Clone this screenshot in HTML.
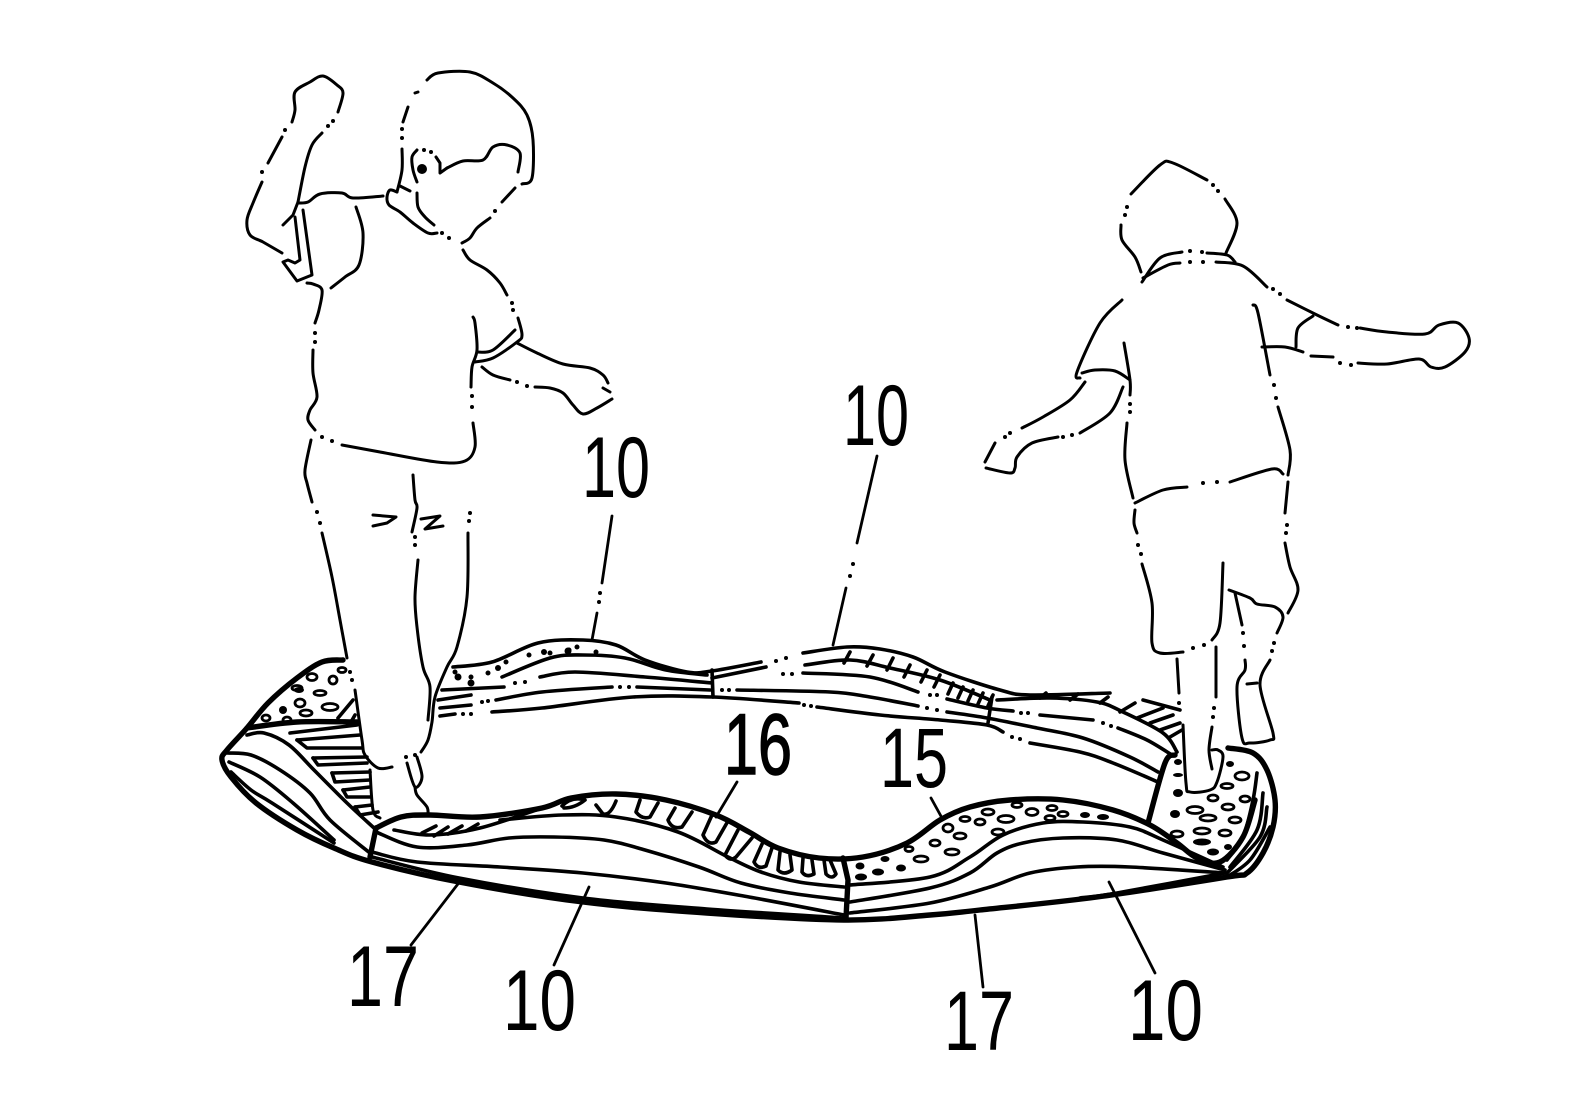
<!DOCTYPE html>
<html><head><meta charset="utf-8"><title>Figure</title>
<style>
html,body{margin:0;padding:0;background:#fff}
svg{display:block}
polyline,path{fill:none;stroke:#000;stroke-width:2.6;stroke-linecap:round;stroke-linejoin:round}
.t polyline,.t path{stroke-width:5.4}
.m polyline,.m path{stroke-width:3.6}
.f polyline,.f path{stroke-width:3}
.l polyline,.l path{stroke-width:2.8}
.d{stroke-width:4}
.h ellipse{fill:none;stroke:#000;stroke-width:2.8}
.b ellipse{fill:#000;stroke:none}
text{font-family:"Liberation Sans",sans-serif;fill:#000;font-weight:400}
</style></head><body>
<svg id="fig" width="1576" height="1100" viewBox="0 0 1576 1100" xmlns="http://www.w3.org/2000/svg">
<rect width="1576" height="1100" fill="#fff"/>

<!-- left boy -->
<g class="f">
<polyline points="338,112 343,93 337,85 323,76 310,82 295,92 295,110 292,122"/>
<polyline points="282,137 268,163"/>
<polyline points="262,182 253,203 247,220 250,235 263,242 282,253"/>
<polyline points="322,133 312,145 305,167 298,202"/>
<polyline class="k" points="283,225 293,215 298,202"/>
<polyline class="k" points="295,217 300,260 295,263 288,260 283,262 297,281 312,275 303,210"/>
<polyline points="298,203 308,202 320,194 342,193 353,198 383,196"/>
<polyline points="397,192 390,190 387,197 389,205 400,212 413,223 428,233 437,233"/>
<polyline points="356,207 363,233 359,265 345,277 331,288"/>
<polyline points="307,283 313,284 322,290 319,310 315,323"/>
<polyline points="313,350 313,373 317,397 310,410 308,420 315,430"/>
<polyline points="342,445 380,452 437,462 465,461 475,447 473,423"/>
<polyline points="471,387 472,367 477,350 475,323 473,317"/>
<polyline points="475,362 493,358 517,342 522,335 518,318"/>
<polyline points="477,352 493,350 515,330"/>
<polyline points="463,250 470,260 487,270 500,283 507,295"/>
<polyline points="517,343 537,353 563,364 590,368 603,375 608,383"/>
<polyline points="603,388 610,392"/>
<polyline points="612,399 597,408 583,414 573,405 563,393 550,388 535,387"/>
<polyline points="510,380 493,375 482,367"/>
<polyline points="427,80 438,73 470,72 493,83 513,98 527,115 533,140 532,178 522,184"/>
<polyline points="515,188 502,202"/>
<polyline points="490,218 477,228 470,238 462,243"/>
<polyline points="418,92 415,93"/>
<polyline points="408,107 403,122"/>
<polyline points="402,149 402,170 397,192"/>
<polyline points="447,168 463,161 483,160 493,147 507,145 520,153 518,172"/>
<polyline class="k" points="447,168 440,173 440,163 436,157"/>
<polyline points="417,150 412,157 413,170 417,182"/>
<polyline points="417,193 418,207 425,217 434,225"/>
<polyline points="400,186 410,191"/>
<polyline points="311,440 305,470 307,483 312,502"/>
<polyline points="322,533 332,577 340,620 347,658"/>
<polyline points="413,475 415,500 417,508 412,532"/>
<polyline points="418,560 415,597 417,627 423,667 430,687 428,720"/>
<polyline points="468,533 467,597 457,647 447,667 435,697 432,722 428,740 421,752"/>
<polyline class="k" points="373,515 396,517 387,523 373,526"/>
<polyline class="k" points="421,519 440,516 425,529 443,526"/>
<polyline points="355,690 362,740 365,755 378,768 392,767"/>
<polyline points="407,763 415,787 422,777 417,757"/>
<polyline points="415,787 417,795 427,807 428,815"/>
<polyline points="370,770 373,810 380,818"/>
</g>
<path class="d" d="M285,130h.01M262,172h.01M328,126h.01M333,121h.01M442,233h.01M449,238h.01M315,333h.01M315,342h.01M322,437h.01M332,441h.01M472,407h.01M472,396h.01M513,310h.01M512,303h.01M527,386h.01M517,382h.01M495,211h.01M402,129h.01M402,138h.01M424,150h.01M431,152h.01M317,512h.01M320,523h.01M415,537h.01M415,545h.01M470,513h.01M469,521h.01M406,757h.01M415,755h.01"/>
<circle cx="422" cy="169" r="5"/>

<!-- right boy -->
<g class="f">
<polyline points="1131,194 1160,165 1173,163 1207,180"/>
<polyline points="1225,199 1237,223 1226,253"/>
<polyline points="1121,225 1122,240 1135,257 1141,272"/>
<polyline points="1142,282 1160,258 1182,252"/>
<polyline points="1207,253 1227,255 1235,262"/>
<polyline points="1143,278 1168,265 1180,263"/>
<polyline points="1216,262 1243,266 1267,287"/>
<polyline points="1287,300 1317,315 1338,325"/>
<polyline points="1360,328 1387,332 1425,334 1439,325 1458,323 1469,338 1465,352 1445,367 1431,367 1419,359 1387,364 1358,363"/>
<polyline points="1333,357 1311,356"/>
<polyline points="1303,352 1285,347 1262,347"/>
<polyline points="1296,347 1298,328 1313,316"/>
<polyline points="1253,305 1258,313 1270,375"/>
<polyline points="1278,407 1290,450 1288,475"/>
<polyline points="1122,300 1100,323 1077,372 1080,378"/>
<polyline points="1082,373 1095,370 1115,371 1130,380"/>
<polyline points="1124,343 1130,380 1130,395"/>
<polyline points="1127,423 1125,460 1133,498"/>
<polyline points="1085,382 1070,400 1043,417 1022,428"/>
<polyline points="995,443 985,462"/>
<polyline points="986,468 1010,473 1015,468 1017,457 1032,443 1058,437"/>
<polyline points="1080,433 1110,413 1123,387"/>
<polyline points="1135,503 1163,490 1187,487"/>
<polyline points="1230,482 1272,469 1283,474"/>
<polyline points="1288,482 1285,513"/>
<polyline points="1135,510 1134,523 1137,533"/>
<polyline points="1142,564 1152,603 1152,643 1160,653 1183,652"/>
<polyline points="1212,640 1220,623 1223,563"/>
<polyline points="1285,543 1290,567 1298,590 1288,613"/>
<polyline points="1229,590 1250,598 1257,604 1275,607 1283,617 1277,633"/>
<polyline points="1270,660 1260,685 1273,733 1270,740 1250,743 1242,738 1237,687 1245,670 1245,660"/>
<polyline points="1247,684 1257,683"/>
<polyline points="1235,593 1242,625"/>
<polyline points="1177,659 1179,693"/>
<polyline points="1183,725 1186,783 1190,792 1210,790 1217,782 1223,757 1218,750 1212,750"/>
<polyline points="1216,647 1216,697"/>
<polyline points="1212,727 1209,750 1212,769"/>
</g>
<path class="d" d="M1213,185h.01M1218,191h.01M1127,207h.01M1125,215h.01M1190,251h.01M1202,252h.01M1190,262h.01M1203,262h.01M1273,289h.01M1280,294h.01M1348,327h.01M1357,328h.01M1351,365h.01M1340,363h.01M1274,385h.01M1276,398h.01M1130,404h.01M1130,412h.01M1010,433h.01M1005,437h.01M1063,437h.01M1072,435h.01M1203,483h.01M1217,482h.01M1287,525h.01M1286,533h.01M1138,545h.01M1141,554h.01M1193,648h.01M1204,645h.01M1274,643h.01M1272,651h.01M1243,633h.01M1244,646h.01M1179,703h.01M1214,708h.01M1213,717h.01"/>

<!-- mat: heavy outlines -->
<g class="t">
<polyline points="343,660 322,662 297,678 268,703 247,728 227,750 222,760 231,777 256,803 297,830 334,848 372,862 459,882 583,902 707,913 844,920 930,915 980,910 1097,897 1227,877 1247,873 1263,853 1273,827 1275,800 1267,770 1253,753 1228,748"/>
<polyline points="376,828 401,817 430,815 480,817 542,808 571,798 616,794 666,800 716,815 749,832 778,848 819,858 863,857 907,843 940,820 970,807 1010,800 1063,800 1113,810 1150,825 1177,843 1197,858 1220,862 1243,837 1255,800"/>
<polyline points="247,728 297,722 357,722"/>
<polyline class="k" points="376,828 370,857"/>
<polyline class="k" points="843,858 848,880 846,918"/>
<polyline points="1175,755 1165,763 1148,823"/>
</g>

<!-- mat: inner lines -->
<g class="m">
<polyline points="227,753 251,755 280,770 310,793 330,820 370,853"/>
<polyline points="229,762 260,777 293,803 334,840"/>
<polyline points="247,735 264,733 289,745 314,770 347,803 374,828"/>
<polyline points="231,772 251,790 272,803 334,843"/>
<polyline points="376,832 417,847 467,845 509,838 554,837 604,840 645,850 699,867 741,883 790,893 844,900"/>
<polyline points="500,820 562,815 616,817 678,832 728,857 761,872 799,882 844,887"/>
<polyline points="372,852 417,862 500,867 583,873 666,883 749,897 844,915"/>
<polyline points="372,857 459,878 583,898 707,909 844,918"/>
<polyline points="394,830 430,835 480,828 542,808"/>
<polyline points="850,885 930,877 970,857 1003,835 1043,823 1083,822 1130,827 1163,840 1223,867"/>
<polyline points="850,902 930,888 970,873 997,853 1023,843 1063,838 1117,840 1163,853 1225,870"/>
<polyline points="850,913 930,903 990,887 1030,873 1077,867 1130,867 1225,873"/>
<polyline points="1080,898 1117,893 1225,873"/>
<polyline points="1257,773 1253,800 1243,837 1227,860"/>
<polyline points="1263,793 1257,830 1230,867"/>
<polyline points="1267,807 1260,837 1227,873"/>
<polyline points="1270,827 1250,860 1227,877"/>
<!-- left hatch -->
<polyline class="k" points="297,740 360,735"/>
<polyline class="k" points="297,740 307,748 362,748"/>
<polyline class="k" points="313,758 367,757"/>
<polyline class="k" points="313,758 318,765 367,763"/>
<polyline class="k" points="332,773 370,772"/>
<polyline class="k" points="332,773 335,782 370,780"/>
<polyline class="k" points="343,790 370,787"/>
<polyline class="k" points="343,790 347,797 370,797"/>
<polyline class="k" points="355,807 372,805"/>
<polyline class="k" points="355,807 360,815 378,812"/>
<polyline class="k" points="290,733 357,725"/>
<polyline class="k" points="338,718 353,700"/>
<polyline class="k" points="351,722 355,715"/>
<!-- finger U shapes on front band -->
<path d="M422,833 L436,826 M434,836 L448,827 M448,834 L462,826 M466,831 L478,824 M564,808 Q575,808 585,800 Q572,796 562,806"/>
<path d="M596,805 L603,814 Q610,816 616,801"/>
<path d="M640,800 L636,812 Q642,820 650,817 L658,803"/>
<path d="M675,808 L668,820 Q672,830 682,827 L692,812"/>
<path d="M712,815 L703,835 Q708,846 716,842 L728,821"/>
<path d="M738,830 L725,855 Q730,862 736,857 L752,838"/>
<path d="M763,842 L754,862 Q758,870 766,866 L772,848"/>
<path d="M780,852 L778,870 Q784,876 792,870 L790,855"/>
<path d="M803,858 L802,872 Q806,878 814,874 L812,860"/>
<path d="M824,860 L826,874 Q832,880 836,874 L830,860"/>
</g>

<!-- back band -->
<g class="m">
<polyline points="453,667 492,662 538,643 583,640 616,645 645,660 687,672 712,671 761,662"/>
<polyline points="803,653 847,647 880,649 913,657 945,672 1000,690 1030,695 1110,693"/>
<polyline points="502,677 550,658 583,655 625,658 666,670 707,675"/>
<polyline points="712,678 766,667"/>
<polyline points="540,677 575,672 645,677 712,683"/>
<polyline points="803,673 870,677 918,692"/>
<polyline points="947,699 987,708 1013,711"/>
<polyline points="1040,715 1093,720"/>
<polyline points="1118,728 1147,740 1172,755"/>
<polyline points="442,690 504,687"/>
<polyline points="438,700 471,695"/>
<polyline points="496,700 542,692 612,687"/>
<polyline points="637,687 710,690"/>
<polyline points="737,690 830,692 870,697 918,706"/>
<polyline points="947,712 987,718 1037,728 1083,738 1130,757 1158,772"/>
<polyline points="440,708 471,705"/>
<polyline points="440,716 455,714"/>
<polyline points="492,712 542,708 633,697 712,697 799,703"/>
<polyline points="817,707 880,715 940,720 987,725 1003,732"/>
<polyline points="1030,743 1080,752 1113,763 1158,782"/>
<polyline class="k" points="712,670 713,697"/>
<polyline class="k" points="992,697 988,723"/>
<polyline points="997,700 1050,698 1097,702 1123,712 1163,733 1177,752"/>
<polyline points="1143,700 1180,710"/>
<polyline points="805,665 850,660 890,668 940,680 990,700"/>
<path d="M850,652 l-6,11M873,655 l-6,11M893,658 l-6,12M910,665 l-6,12M927,670 l-6,12M940,675 l-6,12M953,683 l-5,11M963,687 l-5,11M973,690 l-5,11M983,693 l-5,11M993,695 l-5,11"/>
<path d="M1137,718 L1163,708M1150,723 L1173,715M1160,730 L1180,723M1170,737 L1182,730M1040,698 L1046,693M1070,700 L1078,694M1100,703 L1108,697M1120,712 L1135,703"/>
</g>
<path class="d" d="M786,658h.01M776,661h.01M783,674h.01M792,674h.01M515,683h.01M525,682h.01M482,702h.01M488,701h.01M620,687h.01M629,687h.01M463,714h.01M471,714h.01M804,705h.01M811,706h.01M930,695h.01M937,695h.01M927,708h.01M937,710h.01M1021,713h.01M1028,713h.01M1103,723h.01M1111,726h.01M1012,737h.01M1020,739h.01M722,690h.01M729,690h.01"/>
<path style="stroke-width:5" d="M455,672h.01M471,677h.01M488,673h.01M506,662h.01M529,655h.01M550,653h.01M569,650h.01M596,652h.01M577,647h.01"/>

<!-- hollow dots -->
<g class="h">
<ellipse cx="312" cy="677" rx="5" ry="3.5"/><ellipse cx="333" cy="680" rx="4" ry="4"/><ellipse cx="342" cy="670" rx="4" ry="2.5"/>
<ellipse cx="320" cy="693" rx="6" ry="2.5"/><ellipse cx="300" cy="703" rx="5" ry="4"/><ellipse cx="330" cy="707" rx="8" ry="3.5"/>
<ellipse cx="306" cy="713" rx="6" ry="3"/><ellipse cx="297" cy="688" rx="5" ry="2.5"/><ellipse cx="266" cy="718" rx="4" ry="3"/><ellipse cx="287" cy="720" rx="4" ry="3"/>
<ellipse cx="988" cy="812" rx="6" ry="3"/><ellipse cx="1017" cy="805" rx="5" ry="2.5"/><ellipse cx="1032" cy="812" rx="6" ry="3.5"/>
<ellipse cx="1006" cy="819" rx="8" ry="3.5"/><ellipse cx="980" cy="822" rx="5" ry="3"/><ellipse cx="965" cy="819" rx="5" ry="2.5"/>
<ellipse cx="998" cy="832" rx="6" ry="3"/><ellipse cx="948" cy="828" rx="5" ry="4"/><ellipse cx="960" cy="836" rx="6" ry="3"/>
<ellipse cx="935" cy="843" rx="5" ry="3"/><ellipse cx="952" cy="852" rx="7" ry="3"/><ellipse cx="921" cy="859" rx="7" ry="3"/>
<ellipse cx="909" cy="849" rx="4" ry="2.5"/><ellipse cx="1052" cy="808" rx="5" ry="2.5"/><ellipse cx="1063" cy="814" rx="5" ry="2.5"/><ellipse cx="1050" cy="818" rx="5" ry="2.5"/>
<ellipse cx="1242" cy="776" rx="7" ry="4"/><ellipse cx="1227" cy="786" rx="6" ry="2.5"/><ellipse cx="1213" cy="798" rx="5" ry="3"/>
<ellipse cx="1228" cy="807" rx="6" ry="3"/><ellipse cx="1245" cy="799" rx="5" ry="3"/><ellipse cx="1195" cy="810" rx="8" ry="3.5"/>
<ellipse cx="1235" cy="820" rx="6" ry="3"/><ellipse cx="1208" cy="818" rx="8" ry="3"/><ellipse cx="1202" cy="831" rx="8" ry="3"/>
<ellipse cx="1225" cy="833" rx="6" ry="3"/><ellipse cx="1177" cy="834" rx="6" ry="3"/>
</g>
<g class="b">
<ellipse cx="283" cy="710" rx="4" ry="4"/><ellipse cx="299" cy="690" rx="5" ry="3"/><ellipse cx="350" cy="672" rx="2" ry="2"/><ellipse cx="352" cy="680" rx="2" ry="2"/>
<ellipse cx="860" cy="866" rx="4.5" ry="3.5"/><ellipse cx="878" cy="872" rx="6" ry="3.5"/><ellipse cx="901" cy="868" rx="5" ry="3.5"/>
<ellipse cx="861" cy="877" rx="6" ry="3.5"/><ellipse cx="885" cy="859" rx="4.5" ry="3"/><ellipse cx="1085" cy="815" rx="5" ry="3"/><ellipse cx="1103" cy="817" rx="6" ry="3"/>
<ellipse cx="1178" cy="793" rx="5" ry="4"/><ellipse cx="1175" cy="814" rx="5" ry="4"/><ellipse cx="1202" cy="842" rx="9" ry="3.5"/>
<ellipse cx="1213" cy="852" rx="6" ry="3.5"/><ellipse cx="1228" cy="847" rx="4" ry="3"/><ellipse cx="1230" cy="764" rx="4" ry="3"/>
<ellipse cx="1178" cy="775" rx="5" ry="2"/><ellipse cx="1178" cy="762" rx="4" ry="3"/>
<ellipse cx="458" cy="677" rx="3.5" ry="3.5"/><ellipse cx="471" cy="683" rx="3.5" ry="3.5"/><ellipse cx="498" cy="668" rx="3" ry="3"/><ellipse cx="544" cy="652" rx="3" ry="3"/><ellipse cx="568" cy="651" rx="3.5" ry="3.5"/>
</g>

<!-- leaders -->
<g class="l">
<polyline class="k" points="737,782 716,817"/>
<polyline class="k" points="931,798 942,818"/>
<polyline class="k" points="612,516 602,583"/>
<polyline class="k" points="597,613 592,640"/>
<polyline class="k" points="877,456 857,543"/>
<polyline class="k" points="846,588 833,645"/>
<polyline class="k" points="461,880 411,945"/>
<polyline class="k" points="589,887 554,965"/>
<polyline class="k" points="975,915 983,987"/>
<polyline class="k" points="1109,882 1155,973"/>
</g>
<path class="d" d="M600,593h.01M599,602h.01M853,564h.01M850,576h.01"/>

<!-- reference numerals -->
<g>
<text x="582" y="497" font-size="86" textLength="68" lengthAdjust="spacingAndGlyphs">10</text>
<text x="843" y="445" font-size="86" textLength="66" lengthAdjust="spacingAndGlyphs">10</text>
<text x="724" y="774" font-size="86" textLength="68" lengthAdjust="spacingAndGlyphs" stroke="#000" stroke-width="1.5">16</text>
<text x="880" y="787" font-size="84" textLength="68" lengthAdjust="spacingAndGlyphs">15</text>
<text x="347" y="1006" font-size="86" textLength="72" lengthAdjust="spacingAndGlyphs">17</text>
<text x="503" y="1030" font-size="86" textLength="73" lengthAdjust="spacingAndGlyphs">10</text>
<text x="944" y="1050" font-size="84" textLength="70" lengthAdjust="spacingAndGlyphs">17</text>
<text x="1128" y="1040" font-size="86" textLength="75" lengthAdjust="spacingAndGlyphs">10</text>
</g>
</svg>
<script>
/* Smooth hand-traced polylines into Catmull-Rom curves (corners marked .k stay sharp). */
document.querySelectorAll('#fig polyline:not(.k)').forEach(function(el){
  var p=el.getAttribute('points').trim().split(/\s+/).map(function(s){return s.split(',').map(Number)});
  if(p.length<3)return;
  var d='M'+p[0][0]+','+p[0][1];
  for(var i=0;i<p.length-1;i++){
    var a=p[Math.max(i-1,0)],b=p[i],c=p[i+1],e=p[Math.min(i+2,p.length-1)];
    d+='C'+(b[0]+(c[0]-a[0])/6).toFixed(1)+','+(b[1]+(c[1]-a[1])/6).toFixed(1)+' '+
        (c[0]-(e[0]-b[0])/6).toFixed(1)+','+(c[1]-(e[1]-b[1])/6).toFixed(1)+' '+c[0]+','+c[1];
  }
  var n=document.createElementNS('http://www.w3.org/2000/svg','path');
  n.setAttribute('d',d);
  el.parentNode.replaceChild(n,el);
});
</script>
</body></html>
